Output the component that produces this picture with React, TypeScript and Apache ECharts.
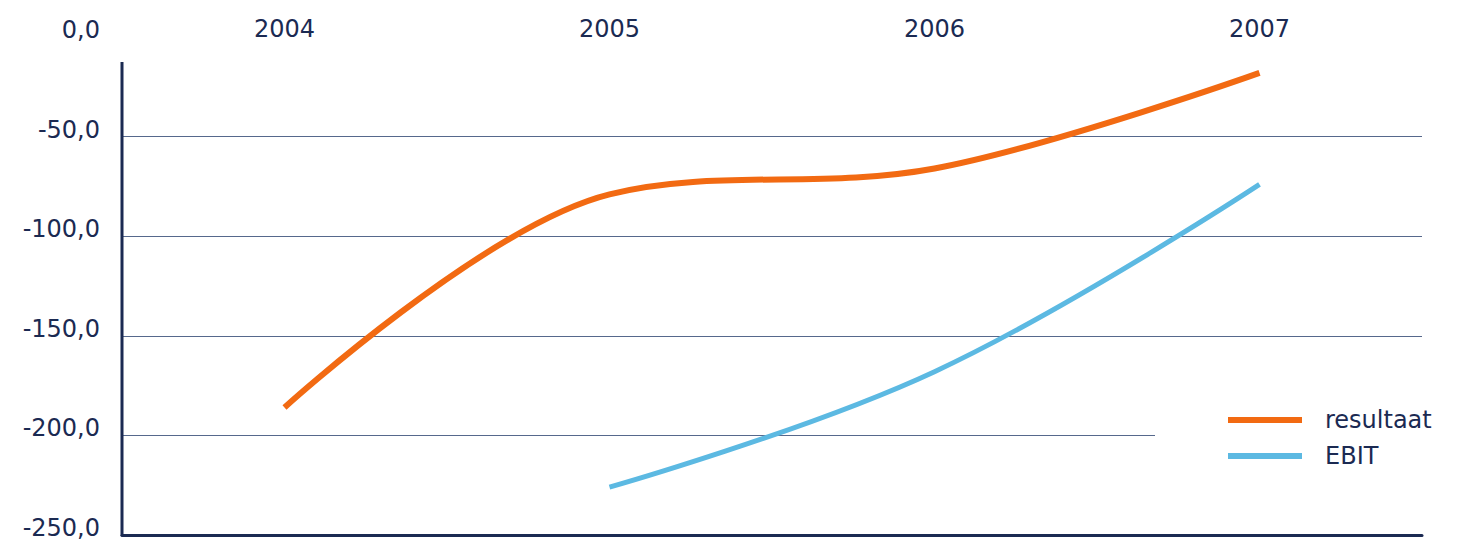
import React, { useEffect, useRef } from "react";
import * as echarts from "echarts";

const years = ["2004", "2005", "2006", "2007"];
const resultaat = [-186, -79, -66, -18];
const ebit = [null, -226, -168, -74];
const seriesNames = ["resultaat", "EBIT"];
const yMin = -250;
const yMax = 0;
const yStep = 50;

const NAVY = "#1b2a52";
const FONT = "DejaVu Sans, Liberation Sans, Arial, sans-serif";
const FS = 24;

export default function App() {
  const ref = useRef<HTMLDivElement>(null);
  useEffect(() => {
    if (!ref.current) return;
    const chart = echarts.init(ref.current, null, { renderer: "svg" });
    chart.setOption({
      animation: false,
      backgroundColor: "#ffffff",
      grid: { left: 122, right: 41, top: 37, bottom: 6 },
      legend: {
        orient: "vertical",
        left: 1155,
        top: 402,
        backgroundColor: "#ffffff",
        padding: [6, 10, 6, 73],
        itemWidth: 74,
        itemHeight: 6,
        itemGap: 12,
        icon: "rect",
        data: seriesNames,
        textStyle: { color: NAVY, fontSize: FS, fontFamily: FONT, padding: [0, 0, 0, 18] },
      },
      xAxis: [
        {
          type: "category",
          data: years,
          position: "top",
          boundaryGap: true,
          axisLine: { show: false },
          axisTick: { show: false },
          splitLine: { show: false },
          axisLabel: { color: NAVY, fontSize: FS, fontFamily: FONT, margin: -4 },
        },
        {
          type: "category",
          data: years,
          position: "bottom",
          boundaryGap: true,
          axisLine: { show: true, lineStyle: { color: NAVY, width: 3 } },
          axisTick: { show: false },
          axisLabel: { show: false },
          splitLine: { show: false },
        },
      ],
      yAxis: {
        type: "value",
        min: yMin,
        max: yMax,
        interval: yStep,
        axisLine: { show: false },
        axisTick: { show: false },
        axisLabel: {
          color: NAVY,
          fontSize: FS,
          fontFamily: FONT,
          margin: 22,
          verticalAlign: "bottom",
          lineHeight: 14,
          formatter: (v: number) => v.toFixed(1).replace(".", ","),
        },
        splitLine: {
          show: true,
          lineStyle: { color: "#56688c", width: 1 },
          showMinLine: false,
          showMaxLine: false,
        },
      },
      graphic: [
        {
          type: "line",
          shape: { x1: 122, y1: 62, x2: 122, y2: 536 },
          style: { stroke: NAVY, lineWidth: 3 },
          z: 10,
        },
      ],
      series: [
        {
          name: seriesNames[0],
          type: "line",
          data: resultaat,
          smooth: 0.35,
          showSymbol: false,
          symbol: "none",
          itemStyle: { color: "#f26a12" },
          lineStyle: { color: "#f26a12", width: 6 },
        },
        {
          name: seriesNames[1],
          type: "line",
          data: ebit,
          smooth: 0.4,
          showSymbol: false,
          symbol: "none",
          itemStyle: { color: "#5cb9e2" },
          lineStyle: { color: "#5cb9e2", width: 5 },
        },
      ],
    });
    return () => chart.dispose();
  }, []);
  return <div ref={ref} style={{ width: 1463, height: 541, position: "absolute", left: 0, top: 0 }} />;
}
